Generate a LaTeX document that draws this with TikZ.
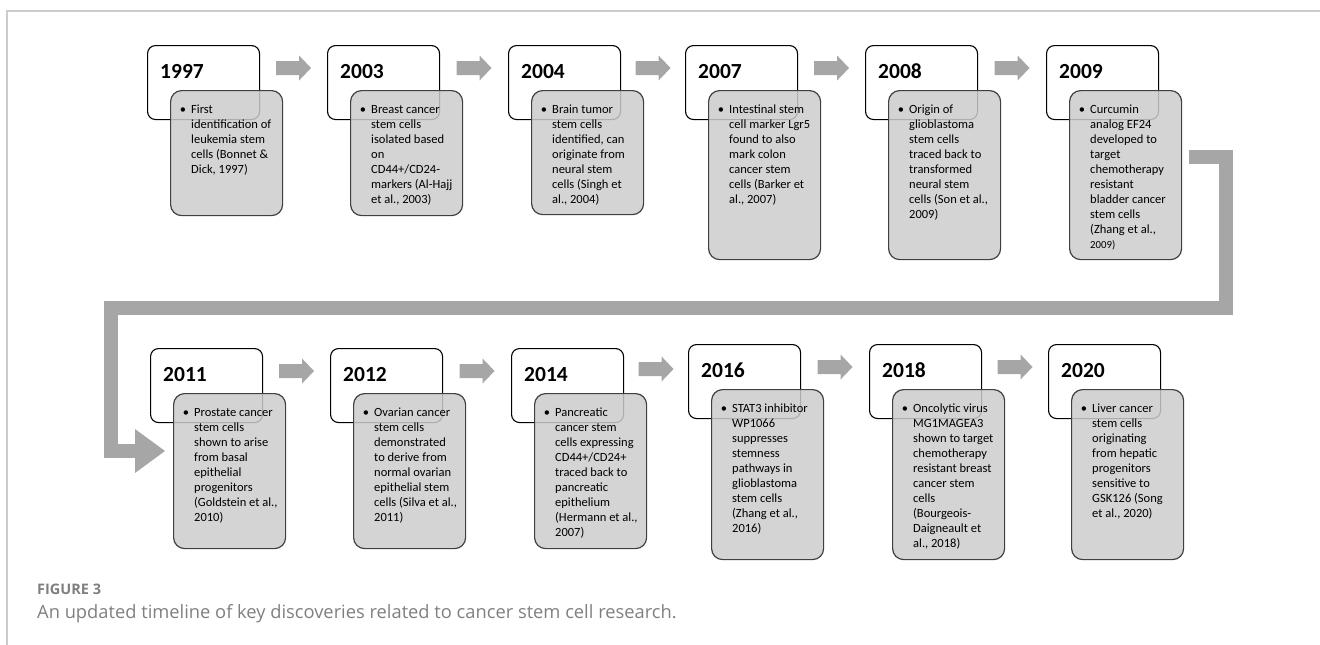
\documentclass[tikz,border=0pt]{standalone}
\usepackage{fontspec}
\setmainfont{Carlito}
\newfontfamily\capfont{Open Sans}
\usetikzlibrary{calc}
\AtBeginDocument{\lineskiplimit=-8pt\relax}
\definecolor{arrowgray}{HTML}{A6A6A6}
\definecolor{detailfill}{HTML}{CCCCCC}
\definecolor{detailborder}{HTML}{404040}
\definecolor{framegray}{HTML}{CCCCCC}
\definecolor{capgray}{HTML}{7F7F7F}
\tikzset{
  yearbox/.style={draw=black, line width=1.1pt, fill=white, rounded corners=8pt,
    minimum width=112pt, minimum height=74pt, anchor=north west, inner sep=0pt},
  yearlabel/.style={anchor=base west, inner sep=0pt, font=\fontsize{21.5}{26}\selectfont\bfseries},
  detailbox/.style={draw=detailborder, line width=1.2pt, fill=detailfill, fill opacity=0.85,
    rounded corners=11pt, minimum width=112pt, anchor=north west, inner sep=0pt},
  bulletmark/.style={anchor=base, inner sep=0pt, font=\fontsize{12.5}{15}\selectfont},
  detailtext/.style={anchor=north west, inner sep=0pt, align=left,
    font=\fontsize{12.5}{15}\selectfont},
  arrowfill/.style={fill=arrowgray, draw=none},
  bigconn/.style={draw=arrowgray, line width=14pt, line join=miter},
}
\newcommand\tlentry[6]{%
  \node[yearbox] (y#1) at (#2,#3) {};
  \node[yearlabel] (ly#1) at ($(y#1.north west)+(13,33)$) {#5};
  \node[detailbox, minimum height=#4pt] (d#1) at ($(y#1.north west)+(23,45)$) {};
  \node[bulletmark] (b#1) at ($(d#1.north west)+(13,23)$) {•};
  \node[detailtext] (t#1) at ($(d#1.north west)+(21,11)$) {\rule{0pt}{12pt}#6};
}
\newcommand\blockarrow[3]{%
  \coordinate (#3) at ($(y#1.north east)!0.5!(y#2.north west)+(0,23)$);
  \fill[arrowfill] ($(#3)+(-17.5,-7)$) -- ++(23,0) -- ++(0,-5.5) -- ++(12,12.5)
     -- ++(-12,12.5) -- ++(0,-5.5) -- ++(-23,0) -- cycle;
}
\begin{document}
\begin{tikzpicture}[x=1pt,y=-1pt]
\useasboundingbox (0,0) rectangle (1320,645);
\draw[framegray, line width=1.2pt] (7,645) -- (7,11) -- (1320,11);

% top row
\tlentry{1}{147}{45}{125}{1997}{First\\identification of\\leukemia stem\\cells (Bonnet \&\\Dick, 1997)}
\tlentry{2}{327}{45}{125}{2003}{Breast cancer\\stem cells\\isolated based\\on\\CD44+/CD24-\\markers (Al-Hajj\\et al., 2003)}
\tlentry{3}{508}{45}{124}{2004}{Brain tumor\\stem cells\\identified, can\\originate from\\neural stem\\cells (Singh et\\al., 2004)}
\tlentry{4}{685}{45}{169}{2007}{Intestinal stem\\cell marker Lgr5\\found to also\\mark colon\\cancer stem\\cells (Barker et\\al., 2007)}
\tlentry{5}{865}{45}{169}{2008}{Origin of\\glioblastoma\\stem cells\\traced back to\\transformed\\neural stem\\cells (Son et al.,\\2009)}
\tlentry{6}{1046}{45}{169}{2009}{Curcumin\\analog EF24\\developed to\\target\\chemotherapy\\resistant\\bladder cancer\\stem cells\\(Zhang et al.,\\{\fontsize{10.8}{15}\selectfont 2009)}}

% bottom row
\tlentry{7}{150}{348}{155}{2011}{Prostate cancer\\stem cells\\shown to arise\\from basal\\epithelial\\progenitors\\(Goldstein et al.,\\2010)}
\tlentry{8}{330}{348}{155}{2012}{Ovarian cancer\\stem cells\\demonstrated\\to derive from\\normal ovarian\\epithelial stem\\cells (Silva et al.,\\2011)}
\tlentry{9}{511}{348}{155}{2014}{Pancreatic\\cancer stem\\cells expressing\\CD44+/CD24+\\traced back to\\pancreatic\\epithelium\\(Hermann et al.,\\2007)}
\tlentry{10}{688}{344}{170}{2016}{STAT3 inhibitor\\WP1066\\suppresses\\stemness\\pathways in\\glioblastoma\\stem cells\\(Zhang et al.,\\2016)}
\tlentry{11}{869}{344}{170}{2018}{Oncolytic virus\\MG1MAGEA3\\shown to target\\chemotherapy\\resistant breast\\cancer stem\\cells\\(Bourgeois-\\Daigneault et\\al., 2018)}
\tlentry{12}{1048}{344}{170}{2020}{Liver cancer\\stem cells\\originating\\from hepatic\\progenitors\\sensitive to\\GSK126 (Song\\et al., 2020)}

% block arrows between year boxes
\blockarrow{1}{2}{arr1}
\blockarrow{2}{3}{arr2}
\blockarrow{3}{4}{arr3}
\blockarrow{4}{5}{arr4}
\blockarrow{5}{6}{arr5}
\blockarrow{7}{8}{arr7}
\blockarrow{8}{9}{arr8}
\blockarrow{9}{10}{arr9}
\blockarrow{10}{11}{arr10}
\blockarrow{11}{12}{arr11}

% big connector from 2009 to 2011
\coordinate (cs) at ($(d6.north east)+(7,67)$);
\coordinate (cr) at (1226,308);
\coordinate (cl) at (110.5,308);
\coordinate (ct) at ($(d7.north west)+(-38,58)$);
\draw[bigconn] (cs) -| (cr) -- (cl) |- (ct);
\fill[arrowfill] ($(ct)+(0,-22)$) -- ($(d7.north west)+(-8,58)$) -- ($(ct)+(0,22)$) -- cycle;

% caption
\node[anchor=base west, inner sep=0pt, text=capgray, font=\capfont\bfseries\fontsize{14.5}{17}\selectfont] (figlabel) at (37,594) {FIGURE 3};
\node[anchor=base west, inner sep=0pt, text=capgray, font=\capfont\fontsize{18.3}{22}\selectfont] (caption) at (37,618) {An updated timeline of key discoveries related to cancer stem cell research.};
\end{tikzpicture}
\end{document}
